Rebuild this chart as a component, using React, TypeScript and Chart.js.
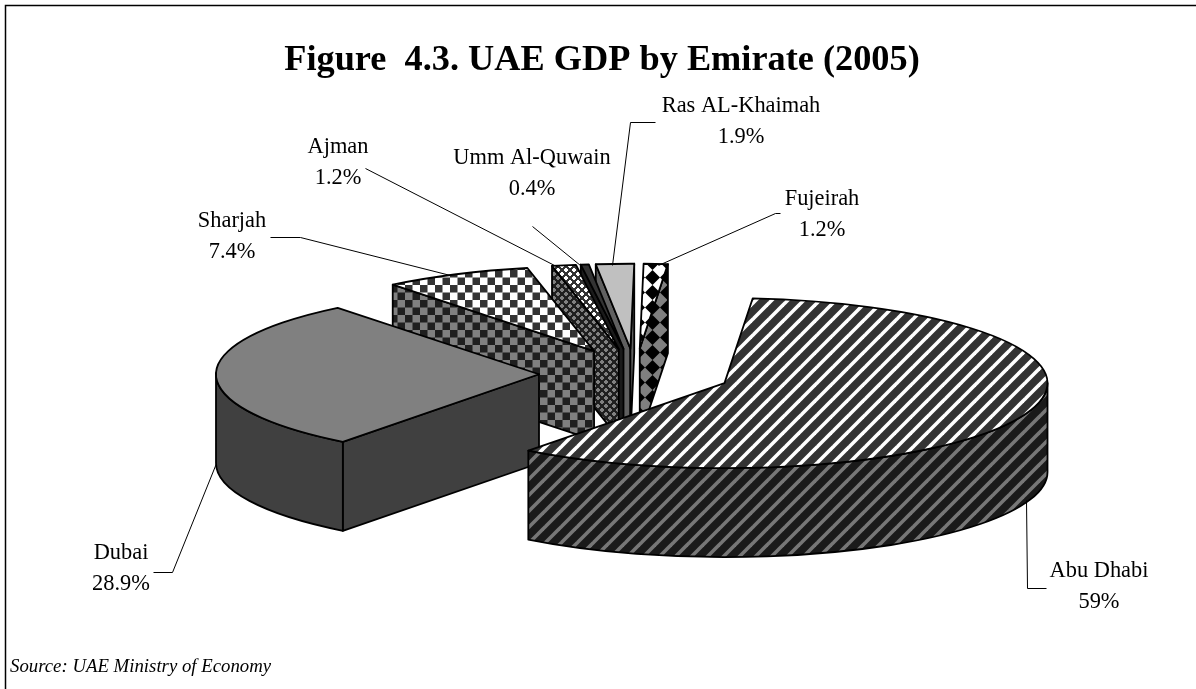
import React, { useEffect, useRef } from "react";
import { Chart, registerables } from "chart.js";

Chart.register(...registerables);

const categories = ["Abu Dhabi", "Dubai", "Sharjah", "Ajman", "Umm Al-Quwain", "Ras AL-Khaimah", "Fujeirah"];
const shares = [59, 28.9, 7.4, 1.2, 0.4, 1.9, 1.2];
const titleText = "Figure  4.3. UAE GDP by Emirate (2005)";
const sourceText = "Source: UAE Ministry of Economy";

const labelCentres = [
  [1099, 571], [121, 553], [232, 221], [338, 147], [532, 158], [741, 106], [822, 199],
];
const leaders = [
  [[1026, 500], [1027, 588], [1046, 588]],
  [[216, 463], [172, 572], [153, 572]],
  [[450, 275], [300, 237], [270, 237]],
  [[558, 267], [365, 168]],
  [[580, 265], [532, 226]],
  [[612, 265], [630, 122], [655, 122]],
  [[658, 265], [775, 213], [780, 213]],
];

const PIE_X = 635, PIE_Y = 374, SQUASH = 85 / 323, DEPTH = 89;
const FONT = '"Liberation Serif"';

function tile(w: number, h: number, paint: (c: CanvasRenderingContext2D) => void) {
  const cv = document.createElement("canvas");
  cv.width = w; cv.height = h;
  const c = cv.getContext("2d")!;
  paint(c);
  return c.createPattern(cv, "repeat")!;
}
function stripes(dark: string, light: string, w: number) {
  const P = 16;
  return tile(P, P, (c) => {
    c.fillStyle = dark; c.fillRect(0, 0, P, P);
    c.strokeStyle = light; c.lineWidth = w;
    for (const o of [-P, 0, P]) {
      c.beginPath(); c.moveTo(o - 4, P + 4); c.lineTo(o + P + 4, -4); c.stroke();
    }
  });
}
function checks(dark: string, light: string) {
  return tile(15, 15, (c) => {
    c.fillStyle = light; c.fillRect(0, 0, 15, 15);
    c.fillStyle = dark;
    c.fillRect(0, 0, 7.5, 7.5); c.fillRect(7.5, 7.5, 7.5, 7.5);
  });
}
function lattice(dark: string, light: string) {
  return tile(8, 8, (c) => {
    c.fillStyle = dark; c.fillRect(0, 0, 8, 8);
    c.fillStyle = light;
    for (const [x, y] of [[0, 0], [4, 4]]) {
      c.fillRect(x + 1, y, 2, 4); c.fillRect(x, y + 1, 4, 2);
    }
  });
}
function diamonds(dark: string, light: string) {
  return tile(15, 15, (c) => {
    c.fillStyle = light; c.fillRect(0, 0, 15, 15);
    c.fillStyle = dark;
    c.beginPath(); c.moveTo(7.5, 0); c.lineTo(15, 7.5); c.lineTo(7.5, 15); c.lineTo(0, 7.5); c.closePath(); c.fill();
  });
}

const pie3d = {
  id: "pie3d",
  beforeDraw(chart: any) {
    const c = chart.ctx;
    c.save();
    c.fillStyle = "#fff"; c.fillRect(0, 0, chart.width, chart.height);
    c.strokeStyle = "#000"; c.lineWidth = 1.5;
    c.beginPath(); c.moveTo(chart.width, 5.5); c.lineTo(5.5, 5.5); c.lineTo(5.5, chart.height); c.stroke();
    c.restore();
  },
  beforeDatasetDraw(chart: any, args: any) {
    const c: CanvasRenderingContext2D = chart.ctx;
    const meta = chart.getDatasetMeta(args.index);
    const sides = chart.data.datasets[args.index].sideColors;
    c.save();
    c.strokeStyle = "#000"; c.lineWidth = 1.8; c.lineJoin = "round";
    for (let i = meta.data.length - 1; i >= 0; i--) {
      const arc = meta.data[i];
      const { startAngle: s, endAngle: e, outerRadius: R } = arc.getProps(["startAngle", "endAngle", "outerRadius"]);
      const mid = (s + e) / 2, off = arc.options.offset;
      const ox = PIE_X + Math.cos(mid) * off;
      const oy = PIE_Y + Math.sin(mid) * off * SQUASH;
      const ry = R * SQUASH;
      const paint = (fill: any) => { c.fillStyle = fill; c.fill(); c.stroke(); };
      const cut = (a: number) => {
        const px = ox + R * Math.cos(a), py = oy + ry * Math.sin(a);
        c.beginPath(); c.moveTo(ox, oy); c.lineTo(px, py); c.lineTo(px, py + DEPTH); c.lineTo(ox, oy + DEPTH); c.closePath();
        paint(sides[i]);
      };
      if (Math.cos(s) < 0) cut(s);
      if (Math.cos(e) > 0) cut(e);
      const a1 = Math.max(s, 0), a2 = Math.min(e, Math.PI);
      if (a2 > a1) {
        c.beginPath();
        c.ellipse(ox, oy, R, ry, 0, a1, a2);
        c.ellipse(ox, oy + DEPTH, R, ry, 0, a2, a1, true);
        c.closePath();
        paint(sides[i]);
      }
      c.beginPath();
      c.moveTo(ox, oy);
      c.ellipse(ox, oy, R, ry, 0, s, e);
      c.closePath();
      paint(arc.options.backgroundColor);
    }
    c.restore();
    return false;
  },
  afterDatasetsDraw(chart: any) {
    const c: CanvasRenderingContext2D = chart.ctx;
    c.save();
    c.strokeStyle = "#000"; c.lineWidth = 1;
    for (const pts of leaders) {
      c.beginPath();
      pts.forEach(([x, y], j) => (j ? c.lineTo(x + 0.5, y + 0.5) : c.moveTo(x + 0.5, y + 0.5)));
      c.stroke();
    }
    c.fillStyle = "#000";
    c.font = `22.4px ${FONT}`;
    c.textAlign = "center"; c.textBaseline = "middle";
    categories.forEach((name, i) => {
      const [x, y] = labelCentres[i];
      c.fillText(name, x, y);
      c.fillText(`${shares[i]}%`, x, y + 31);
    });
    c.restore();
  },
};

export default function App() {
  const ref = useRef<HTMLCanvasElement>(null);
  useEffect(() => {
    const tops = [
      stripes("#333333", "#ffffff", 3.6), "#808080", checks("#333333", "#ffffff"),
      lattice("#333333", "#ffffff"), "#333333", "#c0c0c0", diamonds("#000000", "#ffffff"),
    ];
    const sideColors = [
      stripes("#1a1a1a", "#777777", 3.6), "#404040", checks("#1f1f1f", "#808080"),
      lattice("#1f1f1f", "#808080"), "#1a1a1a", "#606060", diamonds("#000000", "#808080"),
    ];
    const chart = new Chart(ref.current!, {
      type: "pie",
      data: {
        labels: categories,
        datasets: [{
          data: shares,
          backgroundColor: tops,
          sideColors,
          borderWidth: 0,
          offset: 96,
          radius: 323,
        } as any],
      },
      options: {
        responsive: false,
        animation: false,
        rotation: 5,
        layout: { padding: { left: 10, right: 2 } },
        plugins: {
          legend: { display: false },
          tooltip: { enabled: false },
          title: {
            display: true, text: titleText, color: "#000",
            font: { family: FONT, size: 36.3, weight: "bold" },
            padding: { top: 39, bottom: 0 },
          },
          subtitle: {
            display: true, text: sourceText, color: "#000", position: "bottom", align: "start",
            font: { family: FONT, size: 18.8, style: "italic" },
            padding: { top: 0, bottom: 11 },
          },
        },
      },
      plugins: [pie3d],
    } as any);
    return () => chart.destroy();
  }, []);
  return (
    <div style={{ position: "absolute", left: 0, top: 0, width: 1196, height: 689 }}>
      <canvas ref={ref} width={1196} height={689} style={{ display: "block" }} />
    </div>
  );
}
